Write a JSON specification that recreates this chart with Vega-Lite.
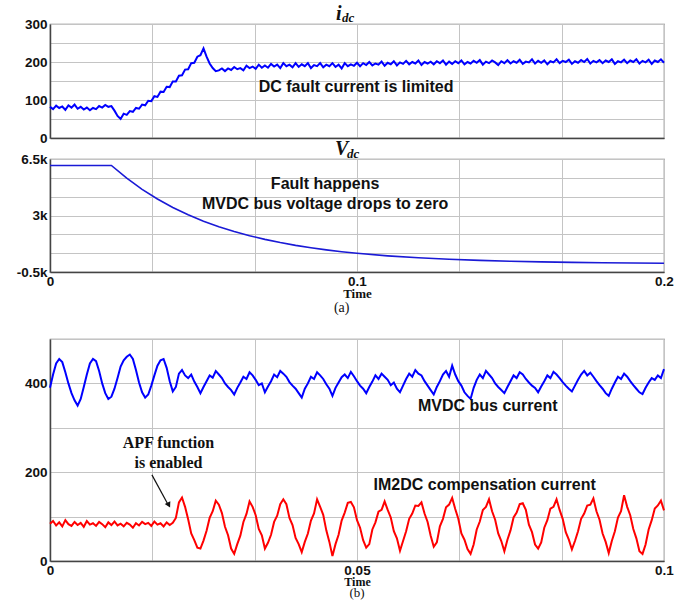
{
"$schema": "https://vega.github.io/schema/vega-lite/v6.json",
"background": "white",
"padding": {"left": 9, "top": 3, "right": 11, "bottom": 0},
"config": {
  "view": {"stroke": "#777", "strokeWidth": 1.2},
  "axis": {"gridColor": "#c4c4c4", "gridWidth": 1, "domainColor": "#444", "domainWidth": 1.5, "ticks": false, "labelFont": "Liberation Sans", "labelFontWeight": "bold", "labelFontSize": 13.5, "labelColor": "#111", "titleFont": "Liberation Serif", "titleFontWeight": "bold", "titleFontSize": 13, "titleColor": "#111", "labelFlush": false, "labelOverlap": false},
  "axisY": {"minExtent": 40, "maxExtent": 40, "labelPadding": 3},
  "axisX": {"labelPadding": 2, "titlePadding": 0}
},
"datasets": {
"idc": [
{"t":0,"i":82},{"t":0.001,"i":76},{"t":0.002,"i":85},{"t":0.003,"i":79},{"t":0.004,"i":83},{"t":0.005,"i":74},{"t":0.006,"i":86},{"t":0.007,"i":80},{"t":0.008,"i":88},{"t":0.009,"i":77},
{"t":0.01,"i":82},{"t":0.011,"i":75},{"t":0.012,"i":80},{"t":0.013,"i":73},{"t":0.014,"i":79},{"t":0.015,"i":76},{"t":0.016,"i":84},{"t":0.017,"i":80},{"t":0.018,"i":87},{"t":0.019,"i":82},
{"t":0.02,"i":84},{"t":0.021,"i":72},{"t":0.022,"i":58},{"t":0.023,"i":50},{"t":0.024,"i":64},{"t":0.025,"i":61},{"t":0.026,"i":71},{"t":0.027,"i":69},{"t":0.028,"i":79},{"t":0.029,"i":77},
{"t":0.03,"i":88},{"t":0.031,"i":86},{"t":0.032,"i":98},{"t":0.033,"i":97},{"t":0.034,"i":110},{"t":0.035,"i":108},{"t":0.036,"i":122},{"t":0.037,"i":121},{"t":0.038,"i":135},{"t":0.039,"i":134},
{"t":0.04,"i":149},{"t":0.041,"i":149},{"t":0.042,"i":164},{"t":0.043,"i":165},{"t":0.044,"i":180},{"t":0.045,"i":181},{"t":0.046,"i":197},{"t":0.047,"i":198},{"t":0.048,"i":214},{"t":0.049,"i":218},
{"t":0.05,"i":236},{"t":0.051,"i":214},{"t":0.052,"i":196},{"t":0.053,"i":184},{"t":0.054,"i":176},{"t":0.055,"i":178},{"t":0.056,"i":183},{"t":0.057,"i":176},{"t":0.058,"i":183},{"t":0.059,"i":179},
{"t":0.06,"i":187},{"t":0.061,"i":181},{"t":0.062,"i":184},{"t":0.063,"i":178},{"t":0.064,"i":190},{"t":0.065,"i":184},{"t":0.066,"i":188},{"t":0.067,"i":182},{"t":0.068,"i":193},{"t":0.069,"i":185},
{"t":0.07,"i":191},{"t":0.071,"i":185},{"t":0.072,"i":195},{"t":0.073,"i":188},{"t":0.074,"i":193},{"t":0.075,"i":184},{"t":0.076,"i":197},{"t":0.077,"i":189},{"t":0.078,"i":193},{"t":0.079,"i":186},
{"t":0.08,"i":197},{"t":0.081,"i":187},{"t":0.082,"i":194},{"t":0.083,"i":189},{"t":0.084,"i":197},{"t":0.085,"i":184},{"t":0.086,"i":192},{"t":0.087,"i":189},{"t":0.088,"i":197},{"t":0.089,"i":186},
{"t":0.09,"i":193},{"t":0.091,"i":189},{"t":0.092,"i":197},{"t":0.093,"i":187},{"t":0.094,"i":193},{"t":0.095,"i":183},{"t":0.096,"i":197},{"t":0.097,"i":189},{"t":0.098,"i":194},{"t":0.099,"i":190},
{"t":0.1,"i":198},{"t":0.101,"i":189},{"t":0.102,"i":197},{"t":0.103,"i":192},{"t":0.104,"i":200},{"t":0.105,"i":191},{"t":0.106,"i":196},{"t":0.107,"i":193},{"t":0.108,"i":201},{"t":0.109,"i":190},
{"t":0.11,"i":198},{"t":0.111,"i":194},{"t":0.112,"i":202},{"t":0.113,"i":191},{"t":0.114,"i":199},{"t":0.115,"i":195},{"t":0.116,"i":203},{"t":0.117,"i":194},{"t":0.118,"i":200},{"t":0.119,"i":196},
{"t":0.12,"i":204},{"t":0.121,"i":192},{"t":0.122,"i":200},{"t":0.123,"i":196},{"t":0.124,"i":201},{"t":0.125,"i":194},{"t":0.126,"i":202},{"t":0.127,"i":197},{"t":0.128,"i":204},{"t":0.129,"i":193},
{"t":0.13,"i":201},{"t":0.131,"i":195},{"t":0.132,"i":202},{"t":0.133,"i":197},{"t":0.134,"i":204},{"t":0.135,"i":194},{"t":0.136,"i":200},{"t":0.137,"i":196},{"t":0.138,"i":203},{"t":0.139,"i":198},
{"t":0.14,"i":205},{"t":0.141,"i":193},{"t":0.142,"i":201},{"t":0.143,"i":197},{"t":0.144,"i":204},{"t":0.145,"i":199},{"t":0.146,"i":192},{"t":0.147,"i":202},{"t":0.148,"i":197},{"t":0.149,"i":205},
{"t":0.15,"i":196},{"t":0.151,"i":202},{"t":0.152,"i":198},{"t":0.153,"i":206},{"t":0.154,"i":195},{"t":0.155,"i":201},{"t":0.156,"i":199},{"t":0.157,"i":207},{"t":0.158,"i":196},{"t":0.159,"i":203},
{"t":0.16,"i":198},{"t":0.161,"i":204},{"t":0.162,"i":194},{"t":0.163,"i":202},{"t":0.164,"i":199},{"t":0.165,"i":207},{"t":0.166,"i":197},{"t":0.167,"i":203},{"t":0.168,"i":200},{"t":0.169,"i":206},
{"t":0.17,"i":195},{"t":0.171,"i":202},{"t":0.172,"i":198},{"t":0.173,"i":205},{"t":0.174,"i":200},{"t":0.175,"i":208},{"t":0.176,"i":196},{"t":0.177,"i":203},{"t":0.178,"i":199},{"t":0.179,"i":205},
{"t":0.18,"i":197},{"t":0.181,"i":204},{"t":0.182,"i":200},{"t":0.183,"i":207},{"t":0.184,"i":195},{"t":0.185,"i":202},{"t":0.186,"i":199},{"t":0.187,"i":206},{"t":0.188,"i":197},{"t":0.189,"i":204},
{"t":0.19,"i":200},{"t":0.191,"i":207},{"t":0.192,"i":196},{"t":0.193,"i":203},{"t":0.194,"i":199},{"t":0.195,"i":206},{"t":0.196,"i":195},{"t":0.197,"i":204},{"t":0.198,"i":200},{"t":0.199,"i":207},
{"t":0.2,"i":198}
],
"vdc": [
{"t":0,"v":6100},{"t":0.02,"v":6100},{"t":0.025,"v":5310},{"t":0.03,"v":4620},{"t":0.035,"v":4020},{"t":0.04,"v":3500},{"t":0.045,"v":3050},{"t":0.05,"v":2650},{"t":0.055,"v":2310},{"t":0.06,"v":2010},{"t":0.065,"v":1750},{"t":0.07,"v":1520},{"t":0.075,"v":1323},{"t":0.08,"v":1151},{"t":0.085,"v":1002},{"t":0.09,"v":872},{"t":0.095,"v":759},{"t":0.1,"v":661},{"t":0.11,"v":500},{"t":0.12,"v":379},{"t":0.13,"v":287},{"t":0.14,"v":218},{"t":0.15,"v":165},{"t":0.16,"v":125},{"t":0.17,"v":95},{"t":0.18,"v":72},{"t":0.19,"v":54},{"t":0.2,"v":41}
],
"b": [
{"t":0,"b":390,"r":84},{"t":0.0005,"b":420,"r":90},{"t":0.001,"b":445,"r":80},{"t":0.0015,"b":455,"r":87},{"t":0.002,"b":448,"r":78},{"t":0.0025,"b":425,"r":92},{"t":0.003,"b":400,"r":83},{"t":0.0035,"b":378,"r":79},{"t":0.004,"b":362,"r":88},{"t":0.0045,"b":350,"r":81},
{"t":0.005,"b":365,"r":86},{"t":0.0055,"b":392,"r":77},{"t":0.006,"b":420,"r":90},{"t":0.0065,"b":445,"r":82},{"t":0.007,"b":455,"r":85},{"t":0.0075,"b":450,"r":79},{"t":0.008,"b":428,"r":88},{"t":0.0085,"b":400,"r":83},{"t":0.009,"b":378,"r":76},{"t":0.0095,"b":365,"r":87},
{"t":0.01,"b":370,"r":81},{"t":0.0105,"b":388,"r":89},{"t":0.011,"b":412,"r":80},{"t":0.0115,"b":438,"r":84},{"t":0.012,"b":452,"r":78},{"t":0.0125,"b":460,"r":86},{"t":0.013,"b":465,"r":82},{"t":0.0135,"b":455,"r":75},{"t":0.014,"b":430,"r":85},{"t":0.0145,"b":402,"r":80},
{"t":0.015,"b":380,"r":88},{"t":0.0155,"b":368,"r":83},{"t":0.016,"b":375,"r":86},{"t":0.0165,"b":395,"r":79},{"t":0.017,"b":418,"r":89},{"t":0.0175,"b":440,"r":82},{"t":0.018,"b":452,"r":85},{"t":0.0185,"b":455,"r":78},{"t":0.019,"b":435,"r":87},{"t":0.0195,"b":405,"r":81},
{"t":0.02,"b":382,"r":86},{"t":0.0205,"b":392,"r":97},{"t":0.021,"b":422,"r":132},{"t":0.0215,"b":430,"r":143},{"t":0.022,"b":418,"r":122},{"t":0.0225,"b":412,"r":94},{"t":0.023,"b":420,"r":62},{"t":0.0235,"b":404,"r":47},{"t":0.024,"b":392,"r":30},{"t":0.0245,"b":378,"r":28},
{"t":0.025,"b":392,"r":46},{"t":0.0255,"b":405,"r":68},{"t":0.026,"b":418,"r":97},{"t":0.0265,"b":413,"r":112},{"t":0.027,"b":428,"r":136},{"t":0.0275,"b":420,"r":127},{"t":0.028,"b":412,"r":108},{"t":0.0285,"b":400,"r":77},{"t":0.029,"b":392,"r":58},{"t":0.0295,"b":385,"r":28},
{"t":0.03,"b":375,"r":16},{"t":0.0305,"b":390,"r":38},{"t":0.031,"b":402,"r":57},{"t":0.0315,"b":415,"r":88},{"t":0.032,"b":410,"r":106},{"t":0.0325,"b":425,"r":134},{"t":0.033,"b":418,"r":122},{"t":0.0335,"b":408,"r":103},{"t":0.034,"b":396,"r":72},{"t":0.0345,"b":400,"r":58},
{"t":0.035,"b":380,"r":28},{"t":0.0355,"b":393,"r":41},{"t":0.036,"b":405,"r":59},{"t":0.0365,"b":420,"r":88},{"t":0.037,"b":414,"r":102},{"t":0.0375,"b":428,"r":128},{"t":0.038,"b":422,"r":139},{"t":0.0385,"b":415,"r":128},{"t":0.039,"b":403,"r":97},{"t":0.0395,"b":395,"r":81},
{"t":0.04,"b":388,"r":52},{"t":0.0405,"b":378,"r":38},{"t":0.041,"b":368,"r":20},{"t":0.0415,"b":388,"r":43},{"t":0.042,"b":400,"r":62},{"t":0.0425,"b":415,"r":91},{"t":0.043,"b":410,"r":107},{"t":0.0435,"b":425,"r":139},{"t":0.044,"b":418,"r":122},{"t":0.0445,"b":410,"r":104},
{"t":0.045,"b":398,"r":69},{"t":0.0455,"b":388,"r":43},{"t":0.046,"b":372,"r":11},{"t":0.0465,"b":390,"r":38},{"t":0.047,"b":402,"r":59},{"t":0.0475,"b":414,"r":91},{"t":0.048,"b":420,"r":109},{"t":0.0485,"b":412,"r":131},{"t":0.049,"b":426,"r":133},{"t":0.0495,"b":416,"r":121},
{"t":0.05,"b":405,"r":92},{"t":0.0505,"b":395,"r":75},{"t":0.051,"b":388,"r":47},{"t":0.0515,"b":378,"r":30},{"t":0.052,"b":392,"r":38},{"t":0.0525,"b":404,"r":71},{"t":0.053,"b":418,"r":87},{"t":0.0535,"b":410,"r":111},{"t":0.054,"b":422,"r":115},{"t":0.0545,"b":415,"r":134},
{"t":0.055,"b":408,"r":115},{"t":0.0555,"b":396,"r":98},{"t":0.056,"b":402,"r":67},{"t":0.0565,"b":388,"r":51},{"t":0.057,"b":380,"r":23},{"t":0.0575,"b":395,"r":45},{"t":0.058,"b":410,"r":67},{"t":0.0585,"b":422,"r":95},{"t":0.059,"b":415,"r":107},{"t":0.0595,"b":430,"r":125},
{"t":0.06,"b":422,"r":124},{"t":0.0605,"b":418,"r":132},{"t":0.061,"b":405,"r":107},{"t":0.0615,"b":395,"r":88},{"t":0.062,"b":385,"r":57},{"t":0.0625,"b":375,"r":32},{"t":0.063,"b":392,"r":42},{"t":0.0635,"b":405,"r":78},{"t":0.064,"b":420,"r":95},{"t":0.0645,"b":428,"r":121},
{"t":0.065,"b":415,"r":127},{"t":0.0655,"b":440,"r":142},{"t":0.066,"b":420,"r":117},{"t":0.0665,"b":405,"r":95},{"t":0.067,"b":395,"r":62},{"t":0.0675,"b":380,"r":48},{"t":0.068,"b":372,"r":27},{"t":0.0685,"b":365,"r":16},{"t":0.069,"b":390,"r":37},{"t":0.0695,"b":408,"r":71},
{"t":0.07,"b":420,"r":89},{"t":0.0705,"b":412,"r":115},{"t":0.071,"b":428,"r":122},{"t":0.0715,"b":420,"r":139},{"t":0.072,"b":412,"r":112},{"t":0.0725,"b":400,"r":93},{"t":0.073,"b":392,"r":62},{"t":0.0735,"b":385,"r":45},{"t":0.074,"b":378,"r":22},{"t":0.0745,"b":392,"r":48},
{"t":0.075,"b":405,"r":69},{"t":0.0755,"b":418,"r":98},{"t":0.076,"b":412,"r":109},{"t":0.0765,"b":425,"r":128},{"t":0.077,"b":420,"r":130},{"t":0.0775,"b":410,"r":115},{"t":0.078,"b":402,"r":82},{"t":0.0785,"b":395,"r":65},{"t":0.079,"b":390,"r":37},{"t":0.0795,"b":380,"r":28},
{"t":0.08,"b":393,"r":42},{"t":0.0805,"b":405,"r":75},{"t":0.081,"b":418,"r":92},{"t":0.0815,"b":412,"r":118},{"t":0.082,"b":426,"r":122},{"t":0.0825,"b":420,"r":139},{"t":0.083,"b":412,"r":115},{"t":0.0835,"b":403,"r":95},{"t":0.084,"b":395,"r":65},{"t":0.0845,"b":388,"r":48},
{"t":0.085,"b":382,"r":26},{"t":0.0855,"b":395,"r":45},{"t":0.086,"b":408,"r":67},{"t":0.0865,"b":420,"r":95},{"t":0.087,"b":428,"r":107},{"t":0.0875,"b":418,"r":125},{"t":0.088,"b":424,"r":127},{"t":0.0885,"b":415,"r":141},{"t":0.089,"b":405,"r":112},{"t":0.0895,"b":396,"r":93},
{"t":0.09,"b":388,"r":62},{"t":0.0905,"b":378,"r":43},{"t":0.091,"b":372,"r":18},{"t":0.0915,"b":388,"r":45},{"t":0.092,"b":402,"r":67},{"t":0.0925,"b":415,"r":98},{"t":0.093,"b":410,"r":112},{"t":0.0935,"b":422,"r":148},{"t":0.094,"b":415,"r":122},{"t":0.0945,"b":405,"r":103},
{"t":0.095,"b":396,"r":72},{"t":0.0955,"b":388,"r":51},{"t":0.096,"b":380,"r":22},{"t":0.0965,"b":376,"r":16},{"t":0.097,"b":390,"r":37},{"t":0.0975,"b":402,"r":71},{"t":0.098,"b":412,"r":92},{"t":0.0985,"b":408,"r":118},{"t":0.099,"b":418,"r":125},{"t":0.0995,"b":412,"r":136},
{"t":0.1,"b":432,"r":114}
]
},
"spacing": 15,
"vconcat": [
{
"spacing": -8,
"title": {"text": "(a)", "orient": "bottom", "anchor": "middle", "font": "Liberation Serif", "fontSize": 14, "fontWeight": "normal", "color": "#111", "offset": 0},
"vconcat": [
{
"width": 614, "height": 114,
"layer": [
{"data": {"name": "idc"}, "mark": {"type": "line", "color": "#0000ff", "strokeWidth": 2},
 "encoding": {
  "x": {"field": "t", "type": "quantitative", "scale": {"domain": [0, 0.2], "nice": false, "zero": false}, "axis": {"values": [0, 0.033333, 0.066667, 0.1, 0.133333, 0.166667, 0.2], "tickCount": 30, "labels": false, "title": null, "minExtent": 0, "maxExtent": 0}},
  "y": {"field": "i", "type": "quantitative", "scale": {"domain": [0, 300], "nice": false, "zero": false}, "axis": {"values": [0, 50, 100, 150, 200, 250, 300], "tickCount": 30, "grid": true, "labelOverlap": false, "labelExpr": "datum.value == 0 || datum.value == 100 || datum.value == 200 || datum.value == 300 ? datum.label : ''", "title": null}}
 }},
{"data": {"values": [{"t": 0.0997, "a": 134, "label": "DC fault current is limited"}]}, "mark": {"type": "text", "font": "Liberation Sans", "fontWeight": "bold", "fontSize": 16, "color": "#111"},
 "encoding": {"x": {"field": "t", "type": "quantitative"}, "y": {"field": "a", "type": "quantitative"}, "text": {"field": "label"}}},
{"data": {"values": [{"t": 0.1, "a": 300, "label": "i"}]}, "mark": {"type": "text", "font": "Liberation Serif", "fontStyle": "italic", "fontWeight": "bold", "fontSize": 20, "color": "#111", "align": "left", "baseline": "alphabetic", "dx": -21, "dy": -4},
 "encoding": {"x": {"field": "t", "type": "quantitative"}, "y": {"field": "a", "type": "quantitative"}, "text": {"field": "label"}}},
{"data": {"values": [{"t": 0.1, "a": 300, "label": "dc"}]}, "mark": {"type": "text", "font": "Liberation Serif", "fontStyle": "italic", "fontWeight": "bold", "fontSize": 13, "color": "#111", "align": "left", "baseline": "alphabetic", "dx": -15, "dy": -2},
 "encoding": {"x": {"field": "t", "type": "quantitative"}, "y": {"field": "a", "type": "quantitative"}, "text": {"field": "label"}}}
]
},
{
"width": 614, "height": 113,
"layer": [
{"data": {"name": "vdc"}, "mark": {"type": "line", "color": "#1a1ad6", "strokeWidth": 1.6},
 "encoding": {
  "x": {"field": "t", "type": "quantitative", "scale": {"domain": [0, 0.2], "nice": false, "zero": false}, "axis": {"values": [0, 0.033333, 0.066667, 0.1, 0.133333, 0.166667, 0.2], "tickCount": 30, "labelExpr": "datum.value == 0 ? '0' : abs(datum.value - 0.1) < 0.001 ? '0.1' : abs(datum.value - 0.2) < 0.001 ? '0.2' : ''", "title": "Time"}},
  "y": {"field": "v", "type": "quantitative", "scale": {"domain": [-500, 6500], "nice": false, "zero": false}, "axis": {"values": [-500, 666.67, 1833.33, 3000, 4166.67, 5333.33, 6500], "tickCount": 30, "grid": true, "labelOverlap": false, "labelExpr": "datum.value == 6500 ? '6.5k' : datum.value == 3000 ? '3k' : datum.value == -500 ? '-0.5k' : ''", "title": null}}
 }},
{"data": {"values": [{"t": 0.0896, "a": 4950, "label": "Fault happens"}, {"t": 0.0896, "a": 3710, "label": "MVDC bus voltage drops to zero"}]}, "mark": {"type": "text", "font": "Liberation Sans", "fontWeight": "bold", "fontSize": 16, "color": "#111"},
 "encoding": {"x": {"field": "t", "type": "quantitative"}, "y": {"field": "a", "type": "quantitative"}, "text": {"field": "label"}}},
{"data": {"values": [{"t": 0.1, "a": 6500, "label": "V"}]}, "mark": {"type": "text", "font": "Liberation Serif", "fontStyle": "italic", "fontWeight": "bold", "fontSize": 20, "color": "#111", "align": "left", "baseline": "alphabetic", "dx": -22, "dy": -4},
 "encoding": {"x": {"field": "t", "type": "quantitative"}, "y": {"field": "a", "type": "quantitative"}, "text": {"field": "label"}}},
{"data": {"values": [{"t": 0.1, "a": 6500, "label": "dc"}]}, "mark": {"type": "text", "font": "Liberation Serif", "fontStyle": "italic", "fontWeight": "bold", "fontSize": 13, "color": "#111", "align": "left", "baseline": "alphabetic", "dx": -10, "dy": -1},
 "encoding": {"x": {"field": "t", "type": "quantitative"}, "y": {"field": "a", "type": "quantitative"}, "text": {"field": "label"}}}
]
}
]
},
{
"width": 614, "height": 222,
"title": {"text": "(b)", "orient": "bottom", "anchor": "middle", "font": "Liberation Serif", "fontSize": 13, "fontWeight": "normal", "color": "#111", "offset": -1},
"layer": [
{"data": {"name": "b"}, "mark": {"type": "line", "color": "#0000ff", "strokeWidth": 2},
 "encoding": {
  "x": {"field": "t", "type": "quantitative", "scale": {"domain": [0, 0.1], "nice": false, "zero": false}, "axis": {"values": [0, 0.016667, 0.033333, 0.05, 0.066667, 0.083333, 0.1], "tickCount": 30, "labelExpr": "datum.value == 0 ? '0' : abs(datum.value - 0.05) < 0.001 ? '0.05' : abs(datum.value - 0.1) < 0.001 ? '0.1' : ''", "title": "Time", "titleFontSize": 12}},
  "y": {"field": "b", "type": "quantitative", "scale": {"domain": [0, 500], "nice": false}, "axis": {"values": [0, 100, 200, 300, 400, 500], "tickCount": 30, "labelOverlap": false, "labelExpr": "datum.value == 0 || datum.value == 200 || datum.value == 400 ? datum.label : ''", "title": null}}
 }},
{"data": {"name": "b"}, "mark": {"type": "line", "color": "#ff0000", "strokeWidth": 2},
 "encoding": {"x": {"field": "t", "type": "quantitative"}, "y": {"field": "r", "type": "quantitative"}}},
{"data": {"values": [{"t": 0.0713, "v": 349, "label": "MVDC bus current"}, {"t": 0.0708, "v": 171, "label": "IM2DC compensation current"}]}, "mark": {"type": "text", "font": "Liberation Sans", "fontWeight": "bold", "fontSize": 16, "color": "#111"},
 "encoding": {"x": {"field": "t", "type": "quantitative"}, "y": {"field": "v", "type": "quantitative"}, "text": {"field": "label"}}},
{"data": {"values": [{"t": 0.0193, "v": 266, "label": "APF function"}, {"t": 0.0193, "v": 221, "label": "is enabled"}]}, "mark": {"type": "text", "font": "Liberation Serif", "fontWeight": "bold", "fontSize": 16, "color": "#111"},
 "encoding": {"x": {"field": "t", "type": "quantitative"}, "y": {"field": "v", "type": "quantitative"}, "text": {"field": "label"}}},
{"data": {"values": [{"t": 0.0166, "v": 194, "t2": 0.0192, "v2": 128}]}, "mark": {"type": "rule", "color": "#111", "strokeWidth": 1.2},
 "encoding": {"x": {"field": "t", "type": "quantitative"}, "y": {"field": "v", "type": "quantitative"}, "x2": {"field": "t2"}, "y2": {"field": "v2"}}},
{"data": {"values": [{"t": 0.01935, "v": 126}]}, "mark": {"type": "point", "shape": "triangle-down", "filled": true, "color": "#111", "size": 40, "angle": 332, "opacity": 1},
 "encoding": {"x": {"field": "t", "type": "quantitative"}, "y": {"field": "v", "type": "quantitative"}}}
]
}
]
}
